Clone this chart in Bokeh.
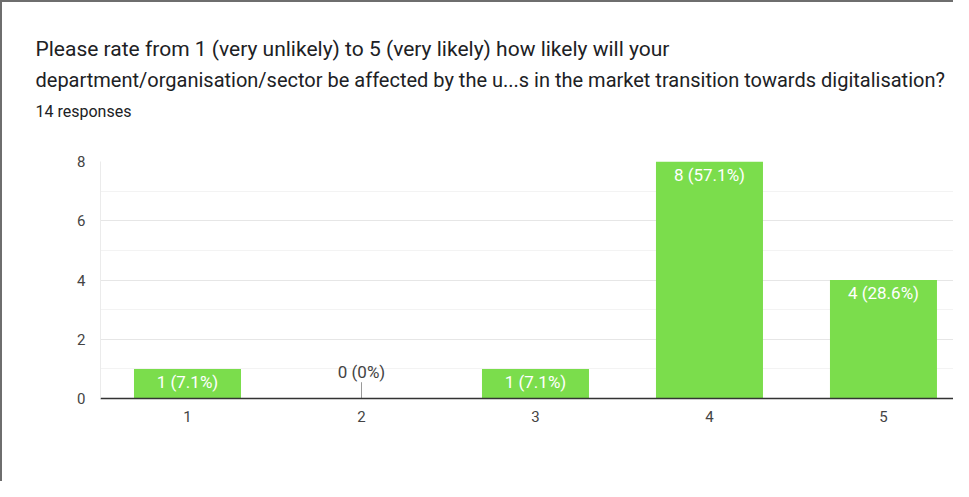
from bokeh.plotting import figure
from bokeh.models import ColumnDataSource, FixedTicker, Title, Range1d
from bokeh.core.properties import value
from bokeh.embed import file_html
from bokeh.resources import INLINE

# ---- data ----
categories = ["1", "2", "3", "4", "5"]
counts = [1, 0, 1, 8, 4]
total_responses = 14
y_ticks = [0, 2, 4, 6, 8]
y_minor_ticks = [1, 3, 5, 7]

title_line1 = "Please rate from 1 (very unlikely) to 5 (very likely) how likely will your"
title_line2 = "department/organisation/sector be affected by the u...s in the market transition towards digitalisation?"
subtitle = f"{total_responses} responses"

FONT = "Roboto"
BAR_COLOR = "#7bdd4c"

def fmt_pct(c):
    pct = round(c / total_responses * 100, 1)
    s = f"{pct:.1f}".rstrip("0").rstrip(".")
    return f"{c} ({s}%)"

xs = list(range(1, len(categories) + 1))
labels = [fmt_pct(c) for c in counts]

pos_src = ColumnDataSource(dict(
    x=[x for x, c in zip(xs, counts) if c > 0],
    top=[c for c in counts if c > 0],
    label=[l for l, c in zip(labels, counts) if c > 0],
))
zero_src = ColumnDataSource(dict(
    x=[x for x, c in zip(xs, counts) if c == 0],
    y=[c for c in counts if c == 0],
    label=[l for l, c in zip(labels, counts) if c == 0],
))

W, H = 953, 481
p = figure(width=W, height=H, output_backend="svg", toolbar_location=None,
           title=None,
           x_range=Range1d(0.5, 5.414), y_range=Range1d(0, 8),
           min_border_left=98, min_border_top=159, min_border_bottom=85,
           min_border_right=0)
p.outline_line_color = None
p.background_fill_color = "white"
p.border_fill_color = "white"

p.vbar(x="x", top="top", bottom=0, width=0.615, source=pos_src,
       fill_color=BAR_COLOR, line_color=None)
p.text(x="x", y="top", text="label", source=pos_src, text_color="white",
       text_font=value(FONT), text_font_size="17px", text_align="center",
       text_baseline="top", y_offset=3)

# zero-value markers
p.segment(x0="x", y0="y", x1="x", y1=0.55, source=zero_src,
          line_color="#999999", line_width=1)
p.text(x="x", y="y", text="label", source=zero_src, text_color="#444444",
       text_font=value(FONT), text_font_size="17px", text_align="center",
       text_baseline="bottom", y_offset=-17)

# axes
p.xaxis.ticker = FixedTicker(ticks=xs)
p.xaxis.major_label_overrides = {x: c for x, c in zip(xs, categories)}
p.xaxis.axis_line_color = "#333333"
p.xaxis.axis_line_width = 1.5
p.xaxis.major_tick_line_color = None
p.xaxis.minor_tick_line_color = None
p.xaxis.major_label_text_font = FONT
p.xaxis.major_label_text_font_size = "15px"
p.xaxis.major_label_text_color = "#444444"
p.xaxis.major_label_standoff = 6

p.yaxis.ticker = FixedTicker(ticks=y_ticks, minor_ticks=y_minor_ticks)
p.yaxis.axis_line_color = "#ebebeb"
p.yaxis.major_tick_line_color = None
p.yaxis.minor_tick_line_color = None
p.yaxis.major_label_text_font = FONT
p.yaxis.major_label_text_font_size = "15px"
p.yaxis.major_label_text_color = "#444444"
p.yaxis.major_label_standoff = 9

p.xgrid.grid_line_color = None
p.ygrid.grid_line_color = "#e6e6e6"
p.ygrid.minor_grid_line_color = "#f3f3f3"

# title texts: added closest-to-frame first
p.add_layout(Title(text=subtitle, align="left", offset=-65, standoff=0,
                   padding=dict(left=0, right=0, top=2, bottom=41),
                   text_font=FONT, text_font_size="16px",
                   text_font_style="normal", text_color="#202124"), "above")
p.add_layout(Title(text=title_line2, align="left", offset=-65, standoff=11,
                   text_font=FONT, text_font_size="20px",
                   text_font_style="normal", text_color="#202124"), "above")
p.add_layout(Title(text=title_line1, align="left", offset=-65, standoff=0,
                   text_font=FONT, text_font_size="21px",
                   text_font_style="normal", text_color="#202124"), "above")

p.styles = {"border-left": "2px solid #6e6e6e", "border-top": "2px solid #6e6e6e"}

open("out.html", "w").write(file_html(p, INLINE))
